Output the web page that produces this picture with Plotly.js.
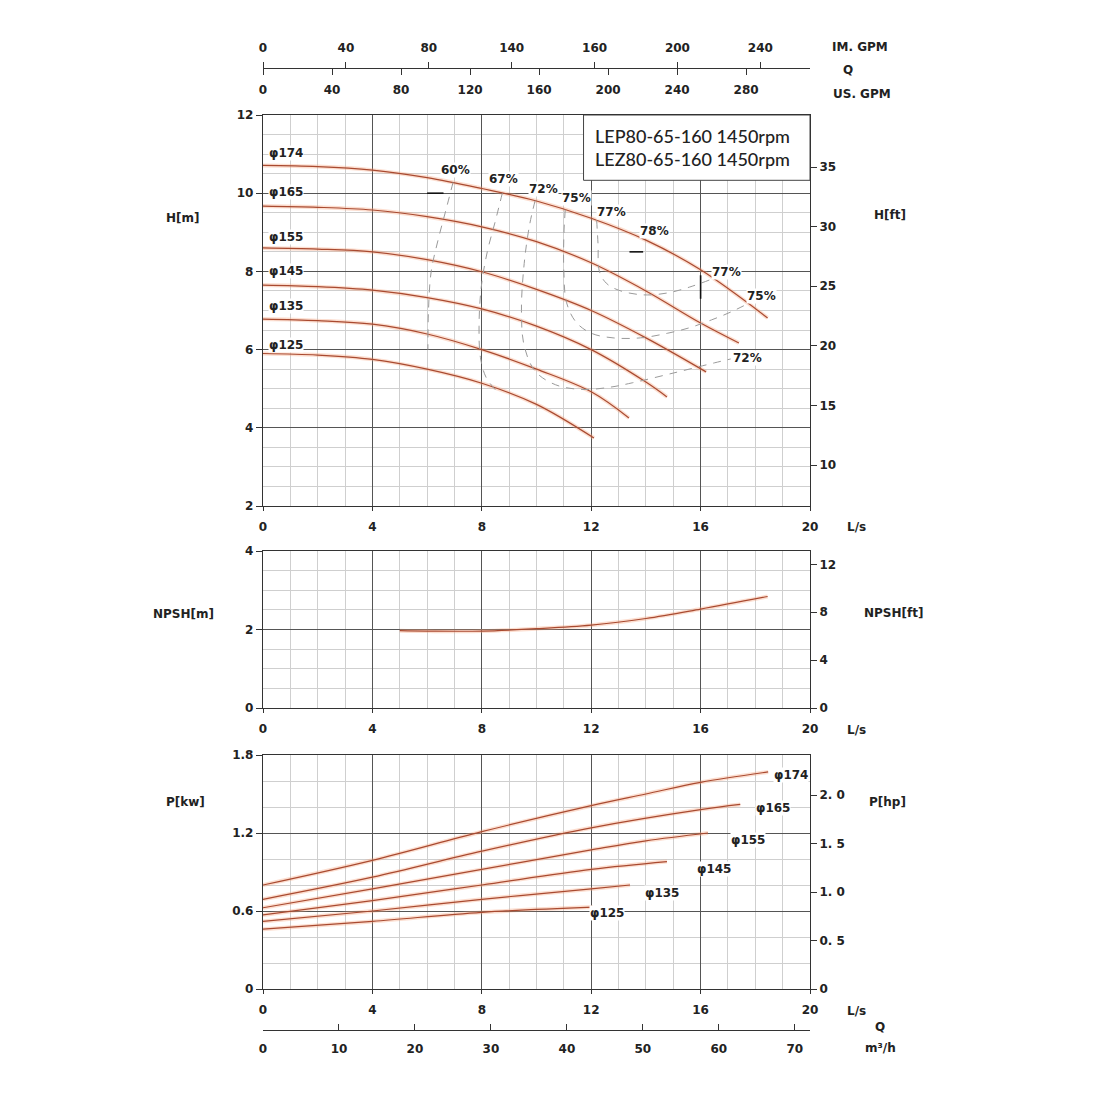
<!DOCTYPE html>
<html>
<head>
<meta charset="utf-8">
<script src="https://cdn.plot.ly/plotly-3.0.1.min.js"></script>
<style>
  html, body { margin: 0; padding: 0; background: #fff; }
  #chart { width: 1100px; height: 1100px; }
</style>
</head>
<body>
<div id="chart"></div>
<script>
// impeller diameters (mm)
var impellers = ["φ174", "φ165", "φ155", "φ145", "φ135", "φ125"];

// H-Q curves, Q in L/s, H in m
var headQ = [
  [0, 2, 4, 6, 8, 10, 12, 14, 16, 18.45],
  [0, 2, 4, 6, 8, 10, 12, 14, 16, 17.4],
  [0, 2, 4, 6, 8, 10, 12, 14, 16.2],
  [0, 2, 4, 6, 8, 10, 12, 14, 14.77],
  [0, 2, 4, 6, 8, 10, 12, 13.38],
  [0, 2, 4, 6, 8, 10, 12.1]
];
var headH = [
  [10.71, 10.68, 10.59, 10.4, 10.12, 9.8, 9.36, 8.8, 8.04, 6.81],
  [9.67, 9.64, 9.57, 9.4, 9.14, 8.76, 8.22, 7.5, 6.68, 6.17],
  [8.6, 8.57, 8.5, 8.3, 7.99, 7.54, 7.0, 6.3, 5.43],
  [7.65, 7.61, 7.52, 7.33, 7.04, 6.6, 6.0, 5.17, 4.79],
  [6.78, 6.74, 6.65, 6.4, 6.0, 5.5, 4.92, 4.25],
  [5.9, 5.86, 5.75, 5.5, 5.14, 4.6, 3.74]
];

// iso-efficiency lines
var effNames = ["60%", "67%", "72%", "75%", "77%"];
var effQ = [
  [6.95, 6.7, 6.4, 6.15, 6.05, 6.03],
  [8.75, 8.5, 8.2, 7.98, 7.9, 7.95, 8.15, 8.5],
  [9.95, 9.75, 9.55, 9.45, 9.55, 9.95, 10.7, 11.7, 12.7, 13.5, 15.0, 16.5, 17.1],
  [11.05, 11.0, 11.0, 11.1, 11.45, 12.0, 12.8, 13.8, 14.8, 15.6, 16.4, 17.1, 17.8],
  [12.2, 12.25, 12.3, 12.55, 13.0, 13.9, 14.8, 15.6, 16.4]
];
var effH = [
  [10.28, 9.6, 8.8, 8.0, 7.0, 6.0],
  [10.0, 9.3, 8.5, 7.6, 6.6, 5.8, 5.3, 4.97],
  [9.81, 9.2, 8.2, 7.0, 6.1, 5.45, 5.1, 4.98, 5.04, 5.15, 5.4, 5.66, 5.76],
  [9.58, 8.9, 8.0, 7.2, 6.7, 6.42, 6.3, 6.3, 6.42, 6.56, 6.76, 6.96, 7.2],
  [9.31, 8.7, 8.0, 7.7, 7.52, 7.4, 7.45, 7.6, 7.8]
];

// short black marks on the H-Q field
var markQ = [6.0, 6.6, null, 13.4, 13.9, null, 16, 16];
var markH = [10, 10, null, 8.5, 8.5, null, 7.9, 7.3];

// NPSH required
var npshQ = [5, 6, 8, 10, 12, 14, 16, 18.45];
var npshH = [1.97, 1.96, 1.96, 2.02, 2.11, 2.28, 2.52, 2.84];

// shaft power, kW
var powerQ = [
  [0, 4, 8, 12, 14, 16, 18.47],
  [0, 4, 8, 12, 16, 17.45],
  [0, 4, 8, 12, 14, 16.27],
  [0, 4, 8, 12, 14.77],
  [0, 4, 8, 12, 13.42],
  [0, 4, 8, 12.07]
];
var powerP = [
  [0.8, 0.99, 1.21, 1.41, 1.5, 1.59, 1.67],
  [0.69, 0.86, 1.06, 1.24, 1.38, 1.42],
  [0.625, 0.77, 0.92, 1.07, 1.14, 1.2],
  [0.57, 0.68, 0.8, 0.92, 0.98],
  [0.52, 0.6, 0.69, 0.77, 0.8],
  [0.46, 0.52, 0.59, 0.63]
];

// secondary scale tick labels
var imGpmTicks = [0, 40, 80, 120, 160, 200, 240];
var imGpmText = ["0", "40", "80", "140", "160", "200", "240"];
var usGpmTicks = [0, 40, 80, 120, 160, 200, 240, 280];
var m3hTicks = [0, 10, 20, 30, 40, 50, 60, 70];
var headFtTicks = [10, 15, 20, 25, 30, 35];
var npshFtTicks = [0, 4, 8, 12];
var hpTicks = [0, 0.5, 1, 1.5, 2];
var hpText = ["0", "0. 5", "1. 0", "1. 5", "2. 0"];

var M_FT = 3.28084, LS_USGPM = 15.8503, LS_IMGPM = 13.1982, LS_M3H = 3.6, KW_HP = 1 / 0.7457;
var QMAX = 20;

var tickFont = {family: "DejaVu Sans", size: 12, color: "#222", weight: "bold", stretch: "condensed"};
var labFont = {family: "DejaVu Sans", size: 12, color: "#222", weight: "bold", stretch: "condensed"};
var haloColor = "rgba(245,160,120,0.35)";
var coreColor = "#a94a30";

var data = [];

function curve(x, y, xa, ya) {
  data.push({x: x, y: y, xaxis: xa, yaxis: ya, mode: "lines", hoverinfo: "skip", showlegend: false,
    line: {color: haloColor, width: 4, shape: "spline", smoothing: 1}});
  data.push({x: x, y: y, xaxis: xa, yaxis: ya, mode: "lines", hoverinfo: "skip", showlegend: false,
    line: {color: coreColor, width: 1.2, shape: "spline", smoothing: 1}});
}

for (var i = 0; i < impellers.length; i++) {
  curve(headQ[i], headH[i], "x", "y");
  curve(powerQ[i], powerP[i], "x3", "y5");
}
curve(npshQ, npshH, "x2", "y3");

for (var k = 0; k < effNames.length; k++) {
  data.push({x: effQ[k], y: effH[k], xaxis: "x", yaxis: "y", mode: "lines", name: effNames[k],
    hoverinfo: "skip", showlegend: false,
    line: {color: "#9a9a9a", width: 1, dash: "8px,7px", shape: "spline", smoothing: 1}});
}
data.push({x: markQ, y: markH, xaxis: "x", yaxis: "y", mode: "lines", hoverinfo: "skip", showlegend: false,
  connectgaps: false, line: {color: "#111", width: 1.6}});

// invisible carriers so every secondary scale gets drawn
function carrier(x, y, xa, ya) {
  data.push({x: x, y: y, xaxis: xa, yaxis: ya, mode: "lines", hoverinfo: "skip", showlegend: false,
    line: {color: "rgba(0,0,0,0)", width: 0}});
}
carrier([0, QMAX], [2 * M_FT, 12 * M_FT], "x", "y2");
carrier([0, QMAX], [0, 4 * M_FT], "x2", "y4");
carrier([0, QMAX], [0, 1.8 * KW_HP], "x3", "y6");
carrier([0, QMAX * LS_IMGPM], [2, 2], "x4", "y");
carrier([0, QMAX * LS_USGPM], [2, 2], "x5", "y");
carrier([0, QMAX * LS_M3H], [0, 0], "x6", "y5");

var xDom = [263 / 1100, 810 / 1100];
function py(p) { return 1 - p / 1100; }

function qAxis(anchor) {
  return {domain: xDom, anchor: anchor, range: [0, QMAX], dtick: 4, tick0: 0,
    showgrid: true, gridcolor: "#555", gridwidth: 1, zeroline: false,
    minor: {dtick: 1, showgrid: true, gridcolor: "#cfcfcf", gridwidth: 1},
    showline: true, mirror: true, linecolor: "#333", linewidth: 1.2,
    ticks: "outside", ticklen: 4, tickcolor: "#333", ticklabelstandoff: 5, tickfont: tickFont, fixedrange: true};
}
function leftAxis(anchor, dom, range, dtick, minor) {
  return {domain: dom, anchor: anchor, range: range, dtick: dtick, tick0: 0,
    showgrid: true, gridcolor: "#555", gridwidth: 1, zeroline: false,
    minor: {dtick: minor, showgrid: true, gridcolor: "#cfcfcf", gridwidth: 1},
    showline: true, mirror: true, linecolor: "#333", linewidth: 1.2,
    ticks: "outside", ticklen: 6, tickcolor: "#333", tickfont: tickFont, fixedrange: true};
}
function rightAxis(over, range, vals, text) {
  var a = {overlaying: over, side: "right", anchor: "x", range: range, tickmode: "array", tickvals: vals,
    showgrid: false, zeroline: false, showline: false, ticks: "outside", ticklen: 6, tickcolor: "#333",
    tickfont: tickFont, fixedrange: true};
  if (text) a.ticktext = text;
  return a;
}

var yH = [py(506), py(115)];
var yN = [py(708), py(551)];
var yP = [py(989), py(755)];

var layout = {
  width: 1100, height: 1100,
  margin: {l: 0, r: 0, t: 0, b: 0},
  paper_bgcolor: "#fff", plot_bgcolor: "#fff",
  showlegend: false,
  xaxis: qAxis("y"),
  xaxis2: qAxis("y3"),
  xaxis3: qAxis("y5"),
  yaxis: leftAxis("x", yH, [2, 12], 2, 0.5),
  yaxis2: rightAxis("y", [2 * M_FT, 12 * M_FT], headFtTicks),
  yaxis3: leftAxis("x2", yN, [0, 4], 2, 0.5),
  yaxis4: rightAxis("y3", [0, 4 * M_FT], npshFtTicks),
  yaxis5: leftAxis("x3", yP, [0, 1.8], 0.6, 0.2),
  yaxis6: rightAxis("y5", [0, 1.8 * KW_HP], hpTicks, hpText),
  xaxis4: {overlaying: "x", anchor: "free", position: py(68), side: "top",
    range: [0, QMAX * LS_IMGPM], tickmode: "array", tickvals: imGpmTicks, ticktext: imGpmText,
    showgrid: false, zeroline: false, showline: true, linecolor: "#333", linewidth: 1,
    ticks: "outside", ticklen: 6, tickcolor: "#333", ticklabelstandoff: 5, tickfont: tickFont, fixedrange: true},
  xaxis5: {overlaying: "x", anchor: "free", position: py(68), side: "bottom",
    range: [0, QMAX * LS_USGPM], tickmode: "array", tickvals: usGpmTicks,
    showgrid: false, zeroline: false, showline: true, linecolor: "#333", linewidth: 1,
    ticks: "outside", ticklen: 6, tickcolor: "#333", ticklabelstandoff: 5, tickfont: tickFont, fixedrange: true},
  xaxis6: {overlaying: "x3", anchor: "free", position: py(1030), side: "bottom",
    range: [0, QMAX * LS_M3H], tickmode: "array", tickvals: m3hTicks,
    showgrid: false, zeroline: false, showline: true, linecolor: "#333", linewidth: 1,
    ticks: "inside", ticklen: 6, tickcolor: "#333", ticklabelstandoff: 8, tickfont: tickFont, fixedrange: true},
  shapes: [
    {type: "rect", xref: "x", yref: "y", x0: 11.72, x1: 20, y0: 10.33, y1: 12, layer: "above",
      fillcolor: "#fff", line: {color: "#444", width: 1}}
  ],
  annotations: []
};

function note(text, x, y, xref, yref, extra) {
  var a = {text: text, x: x, y: y, xref: xref, yref: yref, showarrow: false, font: labFont,
    xanchor: "center", yanchor: "middle"};
  for (var key in extra) a[key] = extra[key];
  layout.annotations.push(a);
}

// model box
note("LEP80-65-160 1450rpm<br>LEZ80-65-160 1450rpm", 12.05, 11.17, "x", "y",
  {xanchor: "left", align: "left", font: {family: "Lato, Open Sans, sans-serif", size: 18, color: "#222", weight: 500}});

// impeller labels, H-Q
var headLabelH = [11.03, 10.03, 8.88, 8.0, 7.11, 6.12];
for (var j = 0; j < impellers.length; j++) {
  note(impellers[j], 0.18, headLabelH[j], "x", "y", {xanchor: "left", bgcolor: "#fff", borderpad: 0});
}
// impeller labels, power
var powLabel = [[19.3, 1.646], [18.65, 1.39], [17.73, 1.146], [16.5, 0.92], [14.6, 0.74], [12.58, 0.585]];
for (var m = 0; m < impellers.length; m++) {
  note(impellers[m], powLabel[m][0], powLabel[m][1], "x3", "y5", {bgcolor: "#fff", borderpad: 0});
}
// efficiency labels
var effLabel = [["60%", 7.02, 10.6], ["67%", 8.81, 10.36], ["72%", 10.27, 10.11], ["75%", 11.45, 9.88],
  ["77%", 12.76, 9.52], ["78%", 14.3, 9.04], ["77%", 16.93, 7.99], ["75%", 18.24, 7.37], ["72%", 17.73, 5.79]];
effLabel.forEach(function (e) { note(e[0], e[1], e[2], "x", "y", {bgcolor: "#fff", borderpad: 0}); });

// axis titles and unit tags
note("H[m]", 183 / 1100, py(218), "paper", "paper", {});
note("NPSH[m]", 183 / 1100, py(614), "paper", "paper", {});
note("P[kw]", 185 / 1100, py(802), "paper", "paper", {});
note("H[ft]", 890 / 1100, py(215), "paper", "paper", {});
note("NPSH[ft]", 893 / 1100, py(613), "paper", "paper", {});
note("P[hp]", 887 / 1100, py(802), "paper", "paper", {});
note("L/s", 856 / 1100, py(527), "paper", "paper", {});
note("L/s", 856 / 1100, py(730), "paper", "paper", {});
note("L/s", 856 / 1100, py(1011), "paper", "paper", {});
note("IM. GPM", 860 / 1100, py(47), "paper", "paper", {});
note("Q", 848 / 1100, py(70), "paper", "paper", {});
note("US. GPM", 862 / 1100, py(94), "paper", "paper", {});
note("Q", 880 / 1100, py(1027), "paper", "paper", {});
note("m³/h", 880 / 1100, py(1048), "paper", "paper", {});

Plotly.newPlot("chart", data, layout, {displayModeBar: false, staticPlot: true});
</script>
</body>
</html>
